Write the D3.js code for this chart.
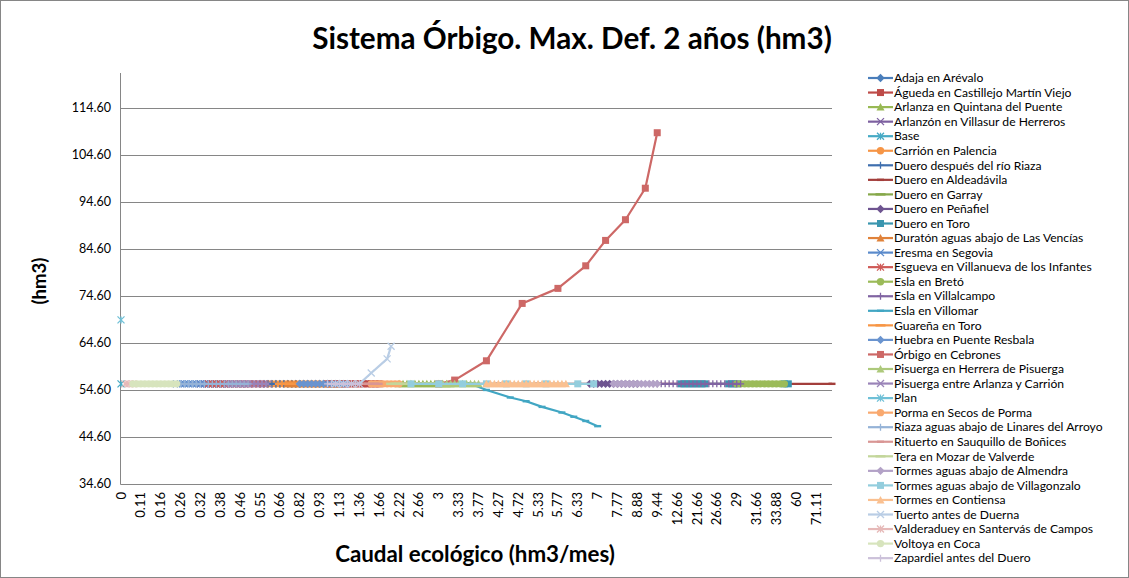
<!DOCTYPE html>
<html><head><meta charset="utf-8">
<script src="https://cdn.jsdelivr.net/npm/d3@7"></script>
<style>body{margin:0;background:#fff}svg{display:block;font-family:Lato,"Open Sans","Liberation Sans",sans-serif}</style>
</head><body><svg id="c" width="1129" height="578"></svg>
<script>
// ---------- DATA ----------
const chartTitle = "Sistema Órbigo. Max. Def. 2 años (hm3)";
const xTitle = "Caudal ecológico (hm3/mes)";
const yTitle = "(hm3)";
// visible x labels (every 5th category of the category axis)
const xLabels = ["0","0.11","0.16","0.26","0.32","0.38","0.46","0.55","0.66","0.82","0.93","1.13","1.36","1.66","2.22","2.66","3","3.33","3.77","4.27","4.72","5.33","5.77","6.33","7","7.77","8.88","9.44","12.66","21.66","26.66","29","31.66","33.88","60","71.11"];
const labelEvery = 5;
const categoryCount = 180;
const yTicks = [34.6,44.6,54.6,64.6,74.6,84.6,94.6,104.6,114.6];
const yMin = 34.6, yMax = 122.0;

const seriesNames = ["Adaja en Arévalo","Águeda en Castillejo Martín Viejo","Arlanza en Quintana del Puente","Arlanzón en Villasur de Herreros","Base","Carrión en Palencia","Duero después del río Riaza","Duero en Aldeadávila","Duero en Garray","Duero en Peñafiel","Duero en Toro","Duratón aguas abajo de Las Vencías","Eresma en Segovia","Esgueva en Villanueva de los Infantes","Esla en Bretó","Esla en Villalcampo","Esla en Villomar","Guareña en Toro","Huebra en Puente Resbala","Órbigo en Cebrones","Pisuerga en Herrera de Pisuerga","Pisuerga entre Arlanza y Carrión","Plan","Porma en Secos de Porma","Riaza aguas abajo de Linares del Arroyo","Rituerto en Sauquillo de Boñices","Tera en Mozar de Valverde","Tormes aguas abajo de Almendra","Tormes aguas abajo de Villagonzalo","Tormes en Contiensa","Tuerto antes de Duerna","Valderaduey en Santervás de Campos","Voltoya en Coca","Zapardiel antes del Duero"];

// category index (x) and value (y) of each series, in legend order
const seriesX = [
 [35,36,37,38,39,40,41,42,43,44,45,46,47,48,49,50,51,52],
 [52,53,54,55,56,57,58,59,60,61,62,63,64,65],
 [70,71,72,73,74,75,76,77,78,79,80,81,82,83],
 [20,21,22,23,24,25,26,27,28,29,30,31,32],
 [0],
 [37,38,39,40,41,42,43,44,45,46,47,48,49,50],
 [30,31,32,33,34,35,36,37,38,39,40,41,42,43,44,45],
 [55,65,75,85,95,105,115,125,135,145,155,165,179],
 [75,76,77,78,79,80,81,82,83,84,85,86,87,88],
 [118,119,120,121,122,123,124,125,126,127,128,129,130],
 [141,142,143,144,145,146,147,153,154,155,167,168],
 [42,43,44,45,46,47,48,49,50,51,52,53,54,55],
 [14,15,16,17,18,19,20,21,22,23,24,25,26,27],
 [22,23,24,25,26,27,28,29,30,31,32,33,34,35,36],
 [155,156,157,158,159,160,161,162,163,164,165,166,167],
 [134,135,136,137,138,139,140,141,142,143,144,145,146,147,148,149,150,151,152,153,154,155,156],
 [85,88,92,98,102,106,111,114,117,120],
 [40,41,42,43,44,45,46,47,48,49,50],
 [45,46,47,48,49,50,51,52,53,54,55,56,57],
 [80,84,92,101,110,117,122,127,132,135],
 [80,81,82,83,84,85,86,87,88,89,90],
 [27,28,29,30,31,32,33,34,35,36,37],
 [0],
 [63,64,65,66,67,68,69,70],
 [15,16,17,18,19,20,21,22,23,24,25,26,27,28,29,30,31,32],
 [58,59,60,61,62,63,64,65],
 [68,69,70,71,72,73,74,75,76,77,78,79,80],
 [124,125,126,127,128,129,130,131,132,133,134,135],
 [73,80,86,92,97,102,107,115,119],
 [92,93,94,95,96,97,98,99,100,101,102,103,104,105,106,107,108,109,110,111,112],
 [54,56,58,60,63,67,68],
 [1,2,3],
 [3,4,5,6,7,8,9,10,11,12,13,14],
 [52,53,54,55,56,57,58,59,60]
];
const seriesY = [
 [55.9,55.9,55.9,55.9,55.9,55.9,55.9,55.9,55.9,55.9,55.9,55.9,55.9,55.9,55.9,55.9,55.9,55.9],
 [55.9,55.9,55.9,55.9,55.9,55.9,55.9,55.9,55.9,55.9,55.9,55.9,55.9,55.9],
 [55.9,55.9,55.9,55.9,55.9,55.9,55.9,55.9,55.9,55.9,55.9,55.9,55.9,55.9],
 [55.9,55.9,55.9,55.9,55.9,55.9,55.9,55.9,55.9,55.9,55.9,55.9,55.9],
 [55.9],
 [55.9,55.9,55.9,55.9,55.9,55.9,55.9,55.9,55.9,55.9,55.9,55.9,55.9,55.9],
 [55.9,55.9,55.9,55.9,55.9,55.9,55.9,55.9,55.9,55.9,55.9,55.9,55.9,55.9,55.9,55.9],
 [55.9,55.9,55.9,55.9,55.9,55.9,55.9,55.9,55.9,55.9,55.9,55.9,55.9],
 [55.9,55.9,55.9,55.9,55.9,55.9,55.9,55.9,55.9,55.9,55.9,55.9,55.9,55.9],
 [55.9,55.9,55.9,55.9,55.9,55.9,55.9,55.9,55.9,55.9,55.9,55.9,55.9],
 [55.9,55.9,55.9,55.9,55.9,55.9,55.9,55.9,55.9,55.9,55.9,55.9],
 [55.9,55.9,55.9,55.9,55.9,55.9,55.9,55.9,55.9,55.9,55.9,55.9,55.9,55.9],
 [55.9,55.9,55.9,55.9,55.9,55.9,55.9,55.9,55.9,55.9,55.9,55.9,55.9,55.9],
 [55.9,55.9,55.9,55.9,55.9,55.9,55.9,55.9,55.9,55.9,55.9,55.9,55.9,55.9,55.9],
 [55.9,55.9,55.9,55.9,55.9,55.9,55.9,55.9,55.9,55.9,55.9,55.9,55.9],
 [55.9,55.9,55.9,55.9,55.9,55.9,55.9,55.9,55.9,55.9,55.9,55.9,55.9,55.9,55.9,55.9,55.9,55.9,55.9,55.9,55.9,55.9,55.9],
 [55.9,55.9,54.6,53.0,52.2,51.0,49.8,48.9,48.0,46.9],
 [55.9,55.9,55.9,55.9,55.9,55.9,55.9,55.9,55.9,55.9,55.9],
 [55.9,55.9,55.9,55.9,55.9,55.9,55.9,55.9,55.9,55.9,55.9,55.9,55.9],
 [55.9,56.7,60.8,73.0,76.2,81.0,86.4,90.8,97.5,109.3],
 [55.9,55.9,55.9,55.9,55.9,55.9,55.9,55.9,55.9,55.9,55.9],
 [55.9,55.9,55.9,55.9,55.9,55.9,55.9,55.9,55.9,55.9,55.9],
 [69.5],
 [55.9,55.9,55.9,55.9,55.9,55.9,55.9,55.9],
 [55.9,55.9,55.9,55.9,55.9,55.9,55.9,55.9,55.9,55.9,55.9,55.9,55.9,55.9,55.9,55.9,55.9,55.9],
 [55.9,55.9,55.9,55.9,55.9,55.9,55.9,55.9],
 [55.9,55.9,55.9,55.9,55.9,55.9,55.9,55.9,55.9,55.9,55.9,55.9,55.9],
 [55.9,55.9,55.9,55.9,55.9,55.9,55.9,55.9,55.9,55.9,55.9,55.9],
 [55.9,55.9,55.9,55.9,55.9,55.9,55.9,55.9,55.9],
 [55.9,55.9,55.9,55.9,55.9,55.9,55.9,55.9,55.9,55.9,55.9,55.9,55.9,55.9,55.9,55.9,55.9,55.9,55.9,55.9,55.9],
 [55.9,55.9,55.9,55.9,58.2,61.2,63.9],
 [55.9,55.9,55.9],
 [55.9,55.9,55.9,55.9,55.9,55.9,55.9,55.9,55.9,55.9,55.9,55.9],
 [55.9,55.9,55.9,55.9,55.9,55.9,55.9,55.9,55.9]
];

// ---------- STYLE ----------
const seriesColors = ["#4A7EBB","#BE4B48","#98B954","#7D60A0","#46AAC5","#F69546","#3F6FAE","#A33E3B","#86A84A","#6E5490","#3A96AF","#E0823A","#5A8ACB","#CF5A57","#9BBB59","#8064A2","#41A6C3","#F79646","#6A94CF","#CD6866","#ADC97B","#9A84B8","#6FC0D7","#F9A96F","#95B3D7","#D99694","#C3D69B","#B3A2C7","#93CDDD","#FAC090","#B9CDE5","#E6B9B8","#D7E4BD","#CCC1DA"];
const markerCycle = ["diamond","square","triangle","x","star","circle","plus","dash","longdash"];

const W = 1129, H = 578;
const plot = {left: 121, right: 832, top: 73, bottom: 484, axisX: 120.5};
const svg = d3.select("#c");
const grid = "#868686";

svg.append("rect").attr("x",0.5).attr("y",0.5).attr("width",W-1).attr("height",H-1)
  .attr("fill","#fff").attr("stroke","#868686");

const x = d3.scaleLinear().domain([0, categoryCount-1]).range([plot.left, plot.right]);
const y = d3.scaleLinear().domain([yMin, yMax]).range([plot.bottom, plot.top]);

// gridlines
svg.append("g").selectAll("line").data(yTicks).join("line")
  .attr("x1", plot.axisX).attr("x2", plot.right)
  .attr("y1", d=>Math.round(y(d))+0.5).attr("y2", d=>Math.round(y(d))+0.5)
  .attr("stroke", grid).attr("stroke-width",1);
// y axis line
svg.append("line").attr("x1",plot.axisX).attr("x2",plot.axisX).attr("y1",plot.top).attr("y2",plot.bottom+0.5)
  .attr("stroke",grid);

// y tick labels
svg.append("g").selectAll("text").data(yTicks).join("text")
  .attr("x", 111).attr("y", d=>y(d)).attr("dy","0.35em")
  .attr("text-anchor","end").attr("font-size",12.5).attr("fill","#000")
  .text(d=>d3.format(".2f")(d));

// x tick labels (category axis, every labelEvery-th category)
svg.append("g").selectAll("text").data(xLabels).join("text")
  .attr("transform",(d,i)=>`translate(${x(i*labelEvery)},492) rotate(-90)`)
  .attr("text-anchor","end").attr("dy","0.35em").attr("font-size",13).attr("fill","#000")
  .text(d=>d);

// titles
function fit(sel, w){ const l = sel.node().getComputedTextLength(); const s = parseFloat(sel.attr("font-size"))*w/l; sel.attr("font-size", s); return s; }
const t = svg.append("text").attr("x",572).attr("y",49).attr("text-anchor","middle")
  .attr("font-weight","bold").attr("font-size",24).text(chartTitle);
fit(t, 520);
const xt = svg.append("text").attr("x",475).attr("y",562).attr("text-anchor","middle")
  .attr("font-weight","bold").attr("font-size",16).text(xTitle);
fit(xt, 280);
const yt = svg.append("text").attr("transform","translate(46,281) rotate(-90)").attr("text-anchor","middle")
  .attr("font-weight","bold").attr("font-size",16).text(yTitle);
fit(yt, 47);

// marker drawing
function marker(g, type, cx, cy, color){
  const s = 3.5;
  switch(type){
    case "diamond": g.append("path").attr("d",`M${cx},${cy-4.2}L${cx+4.2},${cy}L${cx},${cy+4.2}L${cx-4.2},${cy}Z`).attr("fill",color); break;
    case "square": g.append("rect").attr("x",cx-s).attr("y",cy-s).attr("width",2*s).attr("height",2*s).attr("fill",color); break;
    case "triangle": g.append("path").attr("d",`M${cx},${cy-4}L${cx+4},${cy+3.5}L${cx-4},${cy+3.5}Z`).attr("fill",color); break;
    case "x": g.append("path").attr("d",`M${cx-s},${cy-s}L${cx+s},${cy+s}M${cx-s},${cy+s}L${cx+s},${cy-s}`).attr("stroke",color).attr("stroke-width",1.3).attr("fill","none"); break;
    case "star": g.append("path").attr("d",`M${cx-s},${cy-s}L${cx+s},${cy+s}M${cx-s},${cy+s}L${cx+s},${cy-s}M${cx},${cy-s}L${cx},${cy+s}`).attr("stroke",color).attr("stroke-width",1.3).attr("fill","none"); break;
    case "circle": g.append("circle").attr("cx",cx).attr("cy",cy).attr("r",3.7).attr("fill",color); break;
    case "plus": g.append("path").attr("d",`M${cx-s},${cy}L${cx+s},${cy}M${cx},${cy-s}L${cx},${cy+s}`).attr("stroke",color).attr("stroke-width",1.3).attr("fill","none"); break;
    case "dash": g.append("rect").attr("x",cx-3.5).attr("y",cy-1.2).attr("width",7).attr("height",2.4).attr("fill",color); break;
    case "longdash": g.append("rect").attr("x",cx-5).attr("y",cy-1.2).attr("width",10).attr("height",2.4).attr("fill",color); break;
  }
}

// series
const line = d3.line().x(d=>x(d[0])).y(d=>y(d[1]));
const plotG = svg.append("g");
seriesNames.forEach((name,i)=>{
  const pts = seriesX[i].map((c,j)=>[c, seriesY[i][j]]);
  const g = plotG.append("g");
  const col = seriesColors[i];
  if(pts.length>1) g.append("path").attr("d",line(pts)).attr("fill","none").attr("stroke",col).attr("stroke-width",2.2).attr("stroke-linejoin","round");
  pts.forEach(p=>marker(g, markerCycle[i%markerCycle.length], x(p[0]), y(p[1]), col));
});

// legend
const leg = svg.append("g");
const probe = leg.append("text").attr("font-size",12).text(seriesNames[13]);
const legendFont = fit(probe, 198);
probe.remove();
seriesNames.forEach((name,i)=>{
  const cy = 78 + i*14.55;
  const col = seriesColors[i];
  leg.append("line").attr("x1",868).attr("x2",893).attr("y1",cy).attr("y2",cy).attr("stroke",col).attr("stroke-width",2.2);
  marker(leg, markerCycle[i%markerCycle.length], 880.5, cy, col);
  leg.append("text").attr("x",894).attr("y",cy).attr("dy","0.35em").attr("font-size",legendFont).text(name);
});
</script></body></html>
